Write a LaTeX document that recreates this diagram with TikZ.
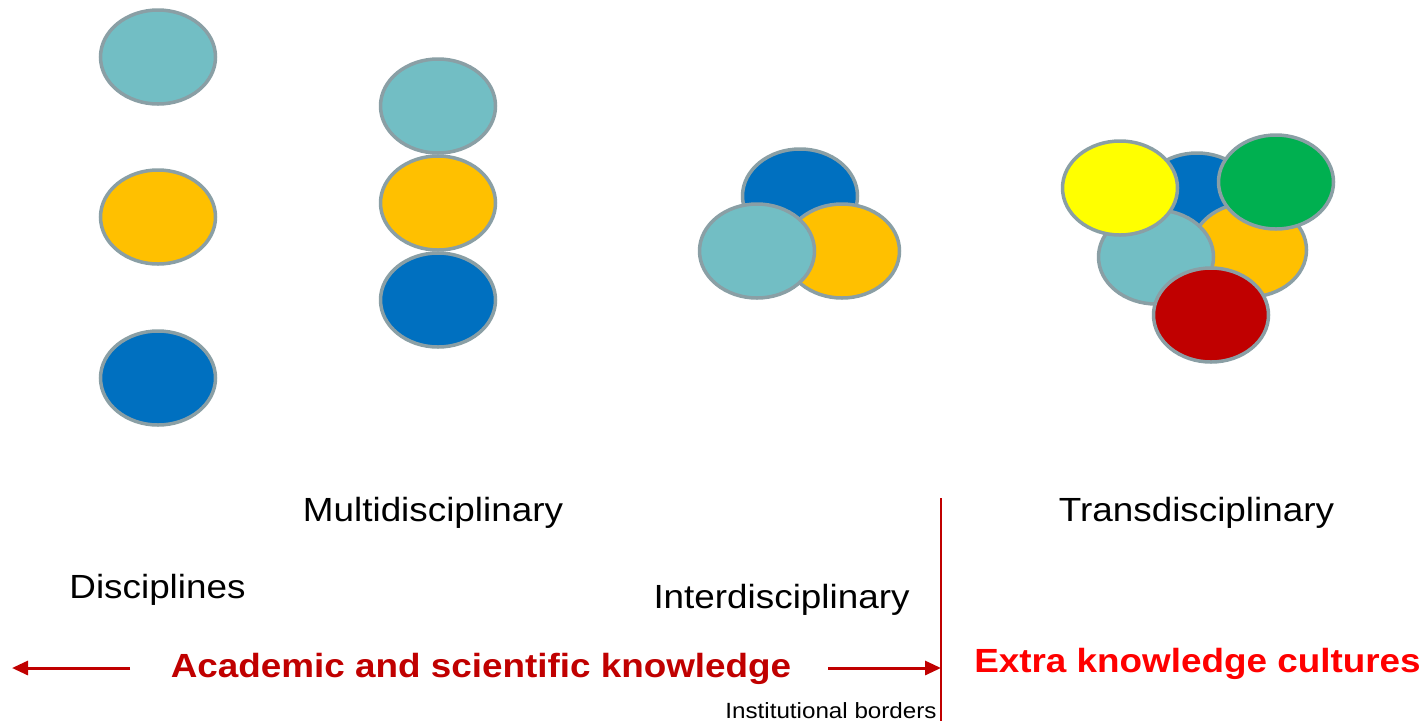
\documentclass[tikz,border=0pt]{standalone}
\usepackage{fontspec}
\setmainfont{Liberation Sans}
\usetikzlibrary{shapes.geometric,arrows.meta}
\definecolor{cteal}{HTML}{72BEC4}
\definecolor{corange}{HTML}{FFC000}
\definecolor{cblue}{HTML}{0070C0}
\definecolor{cyellow}{HTML}{FFFF00}
\definecolor{cgreen}{HTML}{00B050}
\definecolor{cred}{HTML}{C00000}
\definecolor{cbright}{HTML}{FF0000}
\definecolor{cborder}{HTML}{8A9FA5}
\tikzset{
  disc/.style={ellipse, draw=cborder, line width=3.5pt, minimum width=115pt, minimum height=94pt, inner sep=0pt},
  lbl/.style={anchor=base, inner sep=0pt, xscale=1.1, font=\fontsize{33.5}{36}\selectfont},
  redlbl/.style={lbl, font=\fontsize{33.5}{36}\selectfont\bfseries},
  smalllbl/.style={anchor=base, inner sep=0pt, xscale=1.1, font=\fontsize{22}{24}\selectfont},
  redline/.style={draw=cred, line width=3pt},
  redarrow/.style={redline, -{Triangle[length=16pt,width=14pt]}}
}
\begin{document}
\begin{tikzpicture}[x=1pt,y=-1pt]
\useasboundingbox (0,0) rectangle (1427,721);
% Disciplines column
\node[disc, fill=cteal] (d1) at (158,57) {};
\node[disc, fill=corange] (d2) at (158,217) {};
\node[disc, fill=cblue] (d3) at (158,378) {};
% Multidisciplinary column
\node[disc, fill=cteal] (m1) at (438,106) {};
\node[disc, fill=corange] (m2) at (438,203) {};
\node[disc, fill=cblue] (m3) at (438,300) {};
% Interdisciplinary group
\node[disc, fill=cblue] (i1) at (800,196) {};
\node[disc, fill=corange] (i3) at (842,251) {};
\node[disc, fill=cteal] (i2) at (757,251) {};
% Transdisciplinary group
\node[disc, fill=cblue] (t1) at (1197,200) {};
\node[disc, fill=corange] (t3) at (1249,250) {};
\node[disc, fill=cteal] (t2) at (1156,257) {};
\node[disc, fill=cyellow] (t4) at (1120,188) {};
\node[disc, fill=cgreen] (t5) at (1276,182) {};
\node[disc, fill=cred] (t6) at (1211,315) {};
% Labels
\node[lbl] (lmulti) at (433,521.5) {Multidisciplinary};
\node[lbl] (ltrans) at (1196.5,521.5) {Transdisciplinary};
\node[lbl] (ldisc) at (157.5,598) {Disciplines};
\node[lbl] (linter) at (781.5,608) {Interdisciplinary};
\node[redlbl, text=cred] (lacad) at (481,677.5) {Academic and scientific knowledge};
\node[redlbl, text=cbright] (lextra) at (1197.5,672) {Extra knowledge cultures};
\node[smalllbl] (linst) at (831,718.5) {Institutional borders};
% Border line and arrows
\coordinate (btop) at (941,498);
\coordinate (bbot) at (941,721);
\coordinate (bmid) at (941,668);
\draw[redline, line width=2pt] (btop) -- (bbot);
\coordinate (la) at (130,668);
\coordinate (lb) at (12,668);
\coordinate (ra) at (828,668);
\draw[redarrow] (la) -- (lb);
\draw[redarrow] (ra) -- (bmid);
\end{tikzpicture}
\end{document}
